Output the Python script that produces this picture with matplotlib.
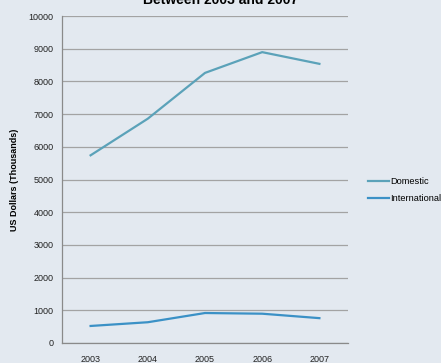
import matplotlib
matplotlib.use("Agg")
import matplotlib.pyplot as plt

years = ["2003", "2004", "2005", "2006", "2007"]
domestic = [5740, 6860, 8260, 8895, 8537]
international = [521, 635, 917, 896, 760]
yticks = [0, 1000, 2000, 3000, 4000, 5000, 6000, 7000, 8000, 9000, 10000]

plt.rcParams['font.family'] = ['Liberation Sans', 'DejaVu Sans']

fig = plt.figure(figsize=(4.41, 3.63), dpi=100)
fig.patch.set_facecolor('#e3e9f0')
ax = fig.add_axes([62/441, 1-343/363, (348-62)/441, (343-16)/363])
ax.set_facecolor('none')

x = list(range(len(years)))
ax.plot(x, domestic, color='#5ba2b9', lw=1.6, label='Domestic')
ax.plot(x, international, color='#3b91c6', lw=1.6, label='International')

ax.set_xlim(-0.5, len(years) - 0.5)
ax.set_ylim(0, 10000)
ax.set_yticks(yticks)
ax.set_yticklabels([str(v) for v in yticks])
ax.set_xticks(x)
ax.set_xticklabels(years)
ax.tick_params(axis='both', length=0, labelsize=6.5, colors='#222222', pad=6)
ax.tick_params(axis='x', pad=8.5)
ax.yaxis.grid(True, color='#a3a3a3', lw=0.9)
ax.set_axisbelow(True)
for s in ['top', 'right']:
    ax.spines[s].set_visible(False)
for s in ['left', 'bottom']:
    ax.spines[s].set_color('#8a8a8a')
    ax.spines[s].set_linewidth(0.9)

ax.set_ylabel('US Dollars (Thousands)', fontsize=6.5, fontweight='bold', labelpad=7)

leg = ax.legend(loc='center left', bbox_to_anchor=(1.04, 0.468), frameon=False,
                fontsize=6.7, handlelength=2.3, handletextpad=0.1, labelspacing=0.85)

fig.text(0.5, 1 - 4/363, 'Between 2003 and 2007', ha='center', va='baseline',
         fontsize=10, fontweight='bold')

fig.savefig('out.png', dpi=100, facecolor=fig.get_facecolor())
